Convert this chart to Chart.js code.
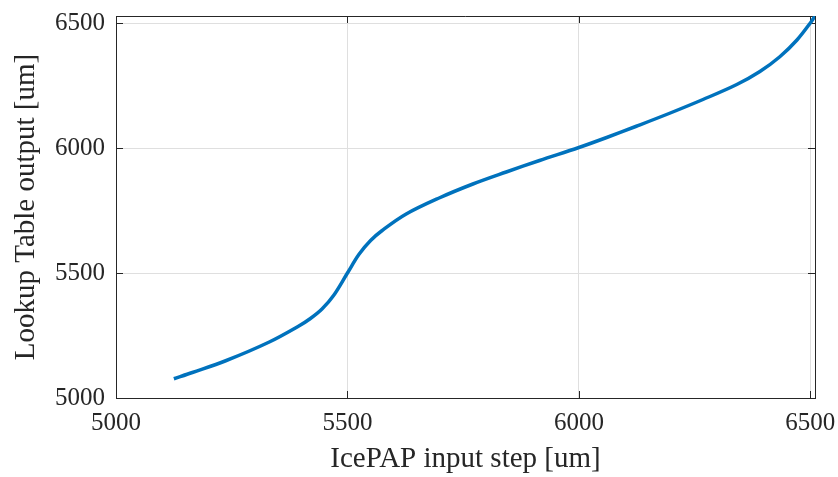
<!DOCTYPE html>
<html>
<head>
<meta charset="utf-8">
<script src="https://cdn.jsdelivr.net/npm/chart.js@4.4.1/dist/chart.umd.min.js"></script>
<style>
  html, body { margin: 0; padding: 0; background: #fff; }
  #wrap { width: 838px; height: 477px; }
</style>
</head>
<body>
<div id="wrap"><canvas id="c"></canvas></div>
<script>
// values
const stepInput = [5125, 5165, 5237, 5330, 5395, 5420, 5445, 5470, 5500, 5525, 5550, 5575, 5626, 5698, 5771, 5843, 5915, 6000, 6060, 6124, 6196, 6268, 6341, 6391, 6434, 6471, 6503, 6510];
const tableOutput = [5077, 5102, 5149, 5223, 5288, 5318, 5356, 5410, 5500, 5575, 5630, 5670, 5735, 5800, 5856, 5904, 5950, 6002, 6042, 6087, 6139, 6194, 6254, 6306, 6365, 6432, 6508, 6528];
const xTicks = [5000, 5500, 6000, 6500];
const yTicks = [5000, 5500, 6000, 6500];
const xRange = [5000, 6510];
const yRange = [5000, 6528];

const FONT = "'Liberation Serif', 'Times New Roman', serif";
const TICK_LEN = 7;

// MATLAB style box: top/right border plus inward ticks on all four sides
const boxPlugin = {
    id: 'matlabBox',
    beforeDatasetsDraw(chart) {
        const { ctx, chartArea: { left, right, top, bottom }, scales: { x, y } } = chart;
        ctx.save();
        ctx.strokeStyle = '#262626';
        ctx.lineWidth = 1;
        ctx.beginPath();
        ctx.moveTo(left, top + 0.5); ctx.lineTo(right + 0.5, top + 0.5);
        ctx.moveTo(right + 0.5, top); ctx.lineTo(right + 0.5, bottom);
        xTicks.forEach(v => {
            const px = Math.round(x.getPixelForValue(v)) + 0.5;
            ctx.moveTo(px, bottom); ctx.lineTo(px, bottom - TICK_LEN);
            ctx.moveTo(px, top); ctx.lineTo(px, top + TICK_LEN);
        });
        yTicks.forEach(v => {
            const py = Math.round(y.getPixelForValue(v)) + 0.5;
            ctx.moveTo(left, py); ctx.lineTo(left + TICK_LEN, py);
            ctx.moveTo(right, py); ctx.lineTo(right - TICK_LEN, py);
        });
        ctx.stroke();
        ctx.restore();
    }
};

new Chart(document.getElementById('c'), {
    type: 'line',
    data: {
        datasets: [{
            data: stepInput.map((v, i) => ({ x: v, y: tableOutput[i] })),
            borderColor: '#0072BD',
            borderWidth: 3.5,
            pointRadius: 0,
            tension: 0.35,
            fill: false
        }]
    },
    plugins: [boxPlugin],
    options: {
        responsive: true,
        maintainAspectRatio: false,
        animation: false,
        layout: { padding: { left: 0, top: 16, right: 23, bottom: 0 } },
        scales: {
            x: {
                type: 'linear',
                min: xRange[0], max: xRange[1],
                afterBuildTicks: s => { s.ticks = xTicks.map(v => ({ value: v })); },
                afterFit: s => { s.height = 79; s.paddingLeft = 0; s.paddingRight = 0; },
                ticks: { color: '#262626', font: { family: FONT, size: 25 }, padding: 10, maxRotation: 0,
                         callback: v => String(v) },
                grid: { color: '#dfdfdf', drawTicks: false },
                border: { color: '#262626', width: 1 },
                title: { display: true, text: 'IcePAP input step [um]', color: '#262626',
                         font: { family: FONT, size: 29 }, padding: { top: 0, bottom: 0 } }
            },
            y: {
                type: 'linear',
                min: yRange[0], max: yRange[1],
                afterBuildTicks: s => { s.ticks = yTicks.map(v => ({ value: v })); },
                afterFit: s => { s.width = 116; s.paddingTop = 0; s.paddingBottom = 0; },
                ticks: { color: '#262626', font: { family: FONT, size: 25 }, padding: 11,
                         callback: v => String(v) },
                grid: { color: '#dfdfdf', drawTicks: false },
                border: { color: '#262626', width: 1 },
                title: { display: true, text: 'Lookup Table output [um]', color: '#262626',
                         font: { family: FONT, size: 29 }, padding: { top: 9, bottom: 0 } }
            }
        },
        plugins: {
            legend: { display: false },
            tooltip: { enabled: false }
        }
    }
});
</script>
</body>
</html>
